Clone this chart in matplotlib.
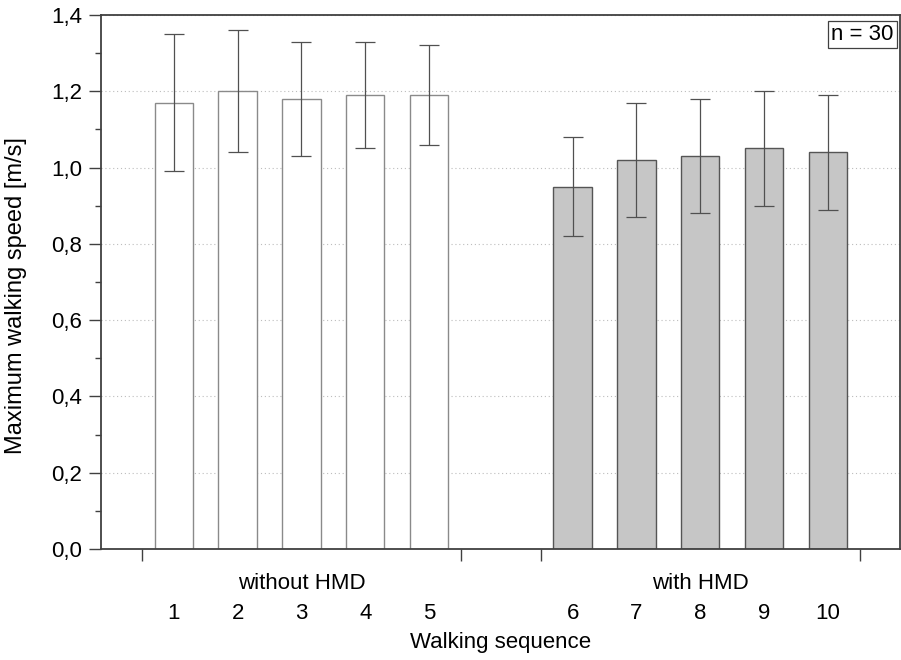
import numpy as np
import matplotlib.pyplot as plt
from matplotlib.ticker import FuncFormatter, MultipleLocator

plt.rcParams["font.family"] = ["Liberation Sans", "DejaVu Sans"]

# mean maximum walking speed per sequence and its standard deviation
sequences = ["1", "2", "3", "4", "5", "6", "7", "8", "9", "10"]
speed_mean = [1.17, 1.20, 1.18, 1.19, 1.19, 0.95, 1.02, 1.03, 1.05, 1.04]
speed_sd = [0.18, 0.16, 0.15, 0.14, 0.13, 0.13, 0.15, 0.15, 0.15, 0.15]
conditions = ["without HMD", "with HMD"]
n_subjects = 30

FS = 16

group_gap = 1.25
x = np.array([i + 1 + (group_gap if i >= 5 else 0) for i in range(len(sequences))])
colors = ["white"] * 5 + ["#c6c6c6"] * 5
edges = ["#8a8a8a"] * 5 + ["#555555"] * 5

fig = plt.figure(figsize=(9.01, 6.6), dpi=100)
ax = fig.add_axes([0.1121, 0.1682, 0.8868, 0.8091])

ax.bar(x, speed_mean, width=0.6, color=colors, edgecolor=edges, linewidth=1.0, zorder=2)
ax.errorbar(x, speed_mean, yerr=speed_sd, fmt="none", ecolor="#505050",
            elinewidth=0.9, capsize=7, capthick=0.9, zorder=3)

ax.set_ylim(0, 1.4)
ax.set_xlim(-0.14, 12.38)
ax.yaxis.set_major_locator(MultipleLocator(0.2))
ax.yaxis.set_minor_locator(MultipleLocator(0.1))
ax.yaxis.set_major_formatter(FuncFormatter(lambda v, _: f"{v:.1f}".replace(".", ",")))
ax.tick_params(axis="y", which="major", length=8.5, width=1.0, color="#404040",
               labelsize=FS, pad=5)
ax.tick_params(axis="y", which="minor", length=4.5, width=1.0, color="#404040")
ax.yaxis.grid(True, linestyle=(0, (1, 2.5)), color="#bdbdbd", linewidth=0.8, zorder=0)
ax.set_axisbelow(True)

# x ticks at the group boundaries, sequence numbers placed as text
group_edges = [0.5, 5.5, 5.5 + group_gap, 10.5 + group_gap]
ax.set_xticks(group_edges)
ax.set_xticklabels([])
ax.tick_params(axis="x", which="major", length=8.5, width=1.0, color="#404040")

for spine in ax.spines.values():
    spine.set_color("#404040")
    spine.set_linewidth(1.3)

xtr = ax.get_xaxis_transform()
for xi, lab in zip(x, sequences):
    ax.text(xi, -0.12, lab, transform=xtr, ha="center", va="center", fontsize=FS)
ax.text(x[:5].mean(), -0.064, conditions[0], transform=xtr, ha="center", va="center",
        fontsize=FS)
ax.text(x[5:].mean(), -0.064, conditions[1], transform=xtr, ha="center", va="center",
        fontsize=FS)
ax.text(0.5, -0.176, "Walking sequence", transform=ax.transAxes, ha="center",
        va="center", fontsize=FS)

fig.text(16 / 901, 1 - 296 / 660, "Maximum walking speed [m/s]", rotation=90,
         ha="center", va="center", fontsize=17)

ax.text(0.992, 0.983, f"n = {n_subjects}", transform=ax.transAxes, ha="right", va="top",
        fontsize=FS,
        bbox=dict(boxstyle="square,pad=0.15", facecolor="white", edgecolor="#404040",
                  linewidth=0.9))

fig.savefig("out.png", dpi=100)
